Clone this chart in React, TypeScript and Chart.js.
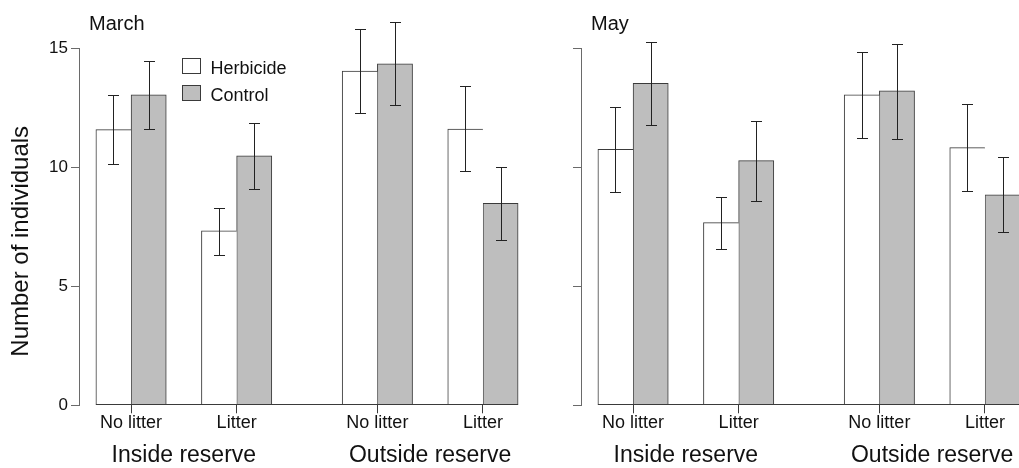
import React, { useEffect, useRef } from 'react';
import { Chart, registerables } from 'chart.js';

Chart.register(...registerables);

// ---------- data ----------
const SITES = ['Inside reserve', 'Outside reserve'];
const LITTER = ['No litter', 'Litter'];
const TREATMENTS = ['Herbicide', 'Control'];
const Y_TICKS = [0, 5, 10, 15];
const Y_TITLE = 'Number of individuals';

// order: Inside/No litter, Inside/Litter, Outside/No litter, Outside/Litter
const MARCH_HERB = [11.57, 7.32, 14.03, 11.6];
const MARCH_HERB_LO = [10.12, 6.31, 12.28, 9.84];
const MARCH_HERB_HI = [13.04, 8.28, 15.78, 13.39];
const MARCH_CTRL = [13.03, 10.47, 14.34, 8.48];
const MARCH_CTRL_LO = [11.59, 9.07, 12.59, 6.94];
const MARCH_CTRL_HI = [14.47, 11.84, 16.08, 10.02];

const MAY_HERB = [10.75, 7.67, 13.03, 10.82];
const MAY_HERB_LO = [8.95, 6.58, 11.24, 8.98];
const MAY_HERB_HI = [12.54, 8.75, 14.83, 12.64];
const MAY_CTRL = [13.52, 10.27, 13.2, 8.84];
const MAY_CTRL_LO = [11.76, 8.59, 11.19, 7.29];
const MAY_CTRL_HI = [15.27, 11.95, 15.18, 10.41];

// ---------- style ----------
const FONT = "'Liberation Sans', Arial, Helvetica, sans-serif";
const TEXT = '#111111';
const EDGE = '#3a3a3a';
const AXIS = '#6a6a6a';
const FILLS = ['#ffffff', '#bebebe'];
const H = 468;

// ---------- layout (in bar-width units, like R barplot) ----------
const WITHIN_GAP = 1;
const BETWEEN_GAP = 2;
function buildLayout() {
  const groupStarts: number[] = [];
  const groupLabels: string[] = [];
  const siteCenters: number[] = [];
  let pos = 0;
  SITES.forEach((_, s) => {
    if (s > 0) pos += BETWEEN_GAP;
    const siteStart = pos;
    LITTER.forEach((lab, g) => {
      if (g > 0) pos += WITHIN_GAP;
      groupStarts.push(pos);
      groupLabels.push(lab);
      pos += TREATMENTS.length;
    });
    siteCenters.push((siteStart + pos) / 2);
  });
  return { groupStarts, groupLabels, siteCenters, total: pos };
}
const LAYOUT = buildLayout();

type PanelSpec = {
  title: string;
  values: number[][];
  lows: number[][];
  highs: number[][];
  showYLabels: boolean;
  showYTitle: boolean;
  showLegend: boolean;
  yAxisWidth: number;
  width: number;
  left: number;
};

function makeConfig(p: PanelSpec): any {
  const { groupStarts, groupLabels, siteCenters, total } = LAYOUT;
  const pad = total * 0.04;
  const datasets = TREATMENTS.map((name, t) => ({
    label: name,
    data: p.values[t].map((v, i) => ({ x: groupStarts[i] + t + 0.5, y: v })),
    errLow: p.lows[t],
    errHigh: p.highs[t],
    backgroundColor: FILLS[t],
    borderColor: EDGE,
    borderWidth: t === 0 ? { top: 1, left: 1, right: 0, bottom: 0 } : { top: 1, left: 1, right: 1, bottom: 0 },
    borderSkipped: false,
    grouped: false,
    categoryPercentage: 1,
    barPercentage: 1,
    xAxisID: 'x',
  }));

  const decor = {
    id: 'decor',
    afterDatasetsDraw(chart: any) {
      const { ctx, chartArea } = chart;
      const x = chart.scales.x;
      const y = chart.scales.y;
      ctx.save();
      // baseline under bars
      ctx.strokeStyle = EDGE;
      ctx.lineWidth = 1;
      const yb = Math.round(y.getPixelForValue(0)) - 0.5;
      ctx.beginPath();
      ctx.moveTo(x.getPixelForValue(0), yb);
      ctx.lineTo(x.getPixelForValue(total), yb);
      ctx.stroke();
      // error bars
      ctx.strokeStyle = '#222222';
      chart.data.datasets.forEach((ds: any, i: number) => {
        const meta = chart.getDatasetMeta(i);
        meta.data.forEach((bar: any, j: number) => {
          const cx = Math.round(bar.x) + 0.5;
          const y1 = Math.round(y.getPixelForValue(ds.errLow[j])) + 0.5;
          const y2 = Math.round(y.getPixelForValue(ds.errHigh[j])) + 0.5;
          ctx.beginPath();
          ctx.moveTo(cx, y1);
          ctx.lineTo(cx, y2);
          ctx.moveTo(cx - 5.5, y1);
          ctx.lineTo(cx + 5.5, y1);
          ctx.moveTo(cx - 5.5, y2);
          ctx.lineTo(cx + 5.5, y2);
          ctx.stroke();
        });
      });
      // panel title
      ctx.fillStyle = TEXT;
      ctx.font = `20px ${FONT}`;
      ctx.textAlign = 'left';
      ctx.textBaseline = 'alphabetic';
      ctx.fillText(p.title, chartArea.left + 10, chartArea.top - 18);
      // legend
      if (p.showLegend) {
        chart.data.datasets.forEach((ds: any, i: number) => {
          const bx = chartArea.left + 103;
          const by = chartArea.top + 10 + i * 27.3;
          ctx.fillStyle = ds.backgroundColor;
          ctx.fillRect(bx, by, 18, 15);
          ctx.strokeStyle = EDGE;
          ctx.strokeRect(Math.round(bx) + 0.5, Math.round(by) + 0.5, 18, 15);
          ctx.fillStyle = TEXT;
          ctx.font = `18px ${FONT}`;
          ctx.fillText(ds.label, bx + 28.5, by + 15.5);
        });
      }
      // y title
      if (p.showYTitle) {
        ctx.save();
        ctx.translate(chartArea.left - 58, chartArea.bottom - 164);
        ctx.rotate(-Math.PI / 2);
        ctx.font = `24px ${FONT}`;
        ctx.textAlign = 'center';
        ctx.textBaseline = 'middle';
        ctx.fillStyle = TEXT;
        ctx.fillText(Y_TITLE, 0, 0);
        ctx.restore();
      }
      ctx.restore();
    },
  };

  return {
    type: 'bar',
    data: { datasets },
    options: {
      animation: false,
      responsive: false,
      maintainAspectRatio: false,
      devicePixelRatio: 1,
      events: [],
      layout: { padding: { top: 48, bottom: 0, left: 0, right: p.width - p.yAxisWidth - 456 } },
      plugins: { legend: { display: false }, tooltip: { enabled: false } },
      scales: {
        x: {
          type: 'linear',
          position: 'bottom',
          offset: false,
          weight: 0,
          min: -pad,
          max: total + pad,
          afterBuildTicks: (s: any) => {
            s.ticks = groupStarts.map((g) => ({ value: g + TREATMENTS.length / 2 }));
          },
          afterFit: (s: any) => {
            s.height = 33;
          },
          ticks: {
            autoSkip: false,
            maxRotation: 0,
            padding: -1,
            color: TEXT,
            font: { family: FONT, size: 18 },
            callback: (_v: any, i: number) => groupLabels[i],
          },
          grid: { offset: false, drawOnChartArea: false, drawTicks: true, tickLength: 8, color: EDGE, lineWidth: 1 },
          border: { display: false },
        },
        x2: {
          type: 'linear',
          position: 'bottom',
          offset: false,
          weight: 1,
          min: -pad,
          max: total + pad,
          afterBuildTicks: (s: any) => {
            s.ticks = siteCenters.map((c) => ({ value: c }));
          },
          afterFit: (s: any) => {
            s.height = H - 48 - 357.3 - 33;
          },
          ticks: {
            autoSkip: false,
            maxRotation: 0,
            padding: 4,
            color: TEXT,
            font: { family: FONT, size: 23 },
            callback: (_v: any, i: number) => SITES[i],
          },
          grid: { display: false, drawTicks: false, offset: false },
          border: { display: false },
        },
        y: {
          type: 'linear',
          min: Y_TICKS[0],
          max: Y_TICKS[Y_TICKS.length - 1],
          afterBuildTicks: (s: any) => {
            s.ticks = Y_TICKS.map((v) => ({ value: v }));
          },
          afterFit: (s: any) => {
            s.width = p.yAxisWidth;
          },
          ticks: {
            display: p.showYLabels,
            padding: 3,
            color: TEXT,
            font: { family: FONT, size: 17 },
          },
          grid: { drawOnChartArea: false, drawTicks: true, tickLength: 8, color: AXIS, lineWidth: 1 },
          border: { display: true, color: AXIS, width: 1 },
        },
      },
    },
    plugins: [decor],
  };
}

function Panel({ spec }: { spec: PanelSpec }) {
  const ref = useRef<HTMLCanvasElement>(null);
  useEffect(() => {
    const chart = new Chart(ref.current as HTMLCanvasElement, makeConfig(spec));
    return () => chart.destroy();
  }, []);
  return (
    <div style={{ position: 'absolute', left: spec.left, top: 0, width: spec.width, height: H }}>
      <canvas ref={ref} width={spec.width} height={H} style={{ display: 'block', width: spec.width, height: H }} />
    </div>
  );
}

const PANELS: PanelSpec[] = [
  {
    title: 'March',
    values: [MARCH_HERB, MARCH_CTRL],
    lows: [MARCH_HERB_LO, MARCH_CTRL_LO],
    highs: [MARCH_HERB_HI, MARCH_CTRL_HI],
    showYLabels: true,
    showYTitle: true,
    showLegend: true,
    yAxisWidth: 79,
    width: 540,
    left: 0,
  },
  {
    title: 'May',
    values: [MAY_HERB, MAY_CTRL],
    lows: [MAY_HERB_LO, MAY_CTRL_LO],
    highs: [MAY_HERB_HI, MAY_CTRL_HI],
    showYLabels: false,
    showYTitle: false,
    showLegend: false,
    yAxisWidth: 41,
    width: 505,
    left: 540,
  },
];

export default function App() {
  useEffect(() => {
    document.body.style.margin = '0';
    document.body.style.overflow = 'hidden';
  }, []);
  return (
    <div style={{ position: 'relative', width: 1019, height: H, overflow: 'hidden', background: '#ffffff' }}>
      {PANELS.map((p) => (
        <Panel key={p.title} spec={p} />
      ))}
    </div>
  );
}
